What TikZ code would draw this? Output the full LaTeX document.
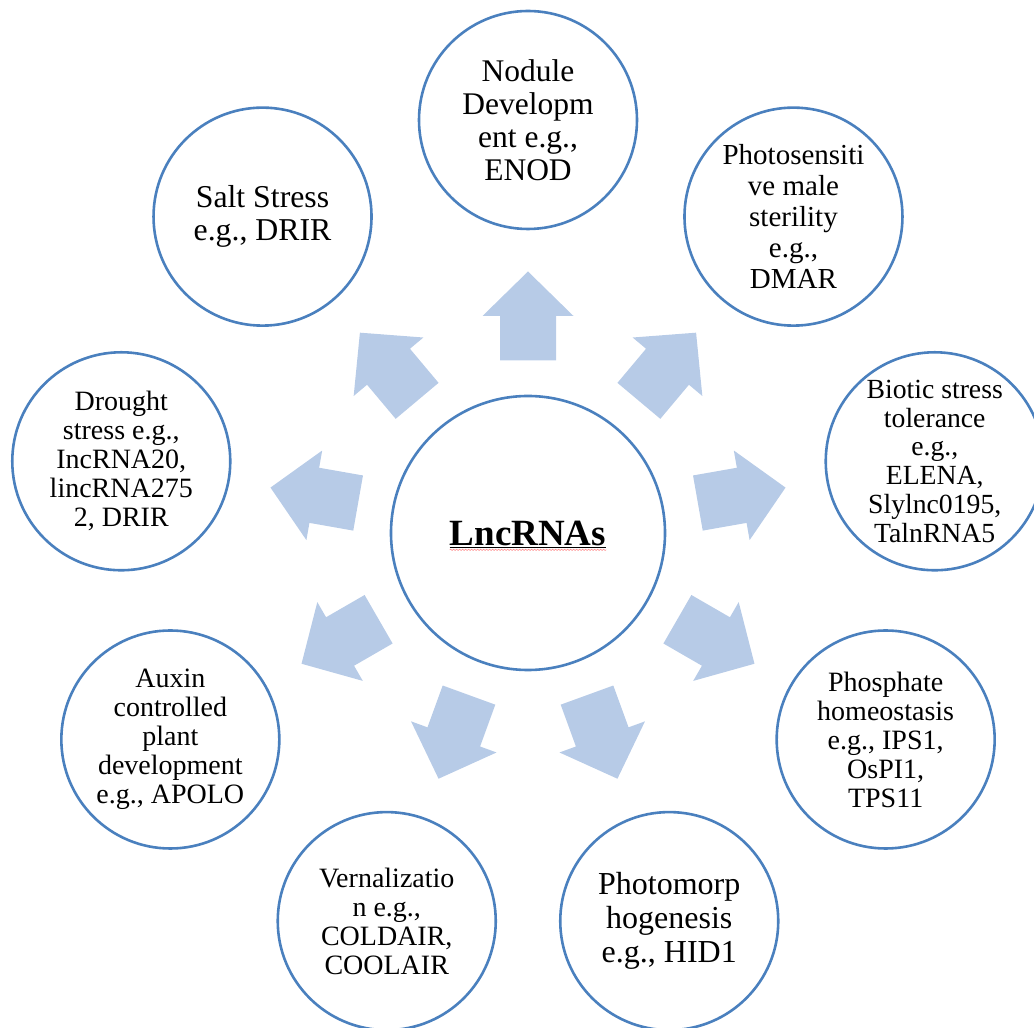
\documentclass[tikz,border=0pt]{standalone}
\usepackage{fontspec}
\setmainfont{Liberation Serif}
\usetikzlibrary{calc,decorations.pathmorphing}
\definecolor{bubbleline}{RGB}{74,128,190}
\definecolor{arrowfill}{RGB}{183,203,231}
\tikzset{
  bubble/.style={circle, draw=bubbleline, line width=2.6pt, minimum size=218pt, inner sep=0pt, fill=white},
  lbl/.style={align=center, inner sep=0pt, text=black},
  blockarrow/.style={fill=arrowfill, draw=none},
}
\newcommand{\fsz}[2]{\fontsize{#1}{#2}\selectfont}
\begin{document}
\begin{tikzpicture}[x=1pt,y=1pt]
\useasboundingbox (0,0) rectangle (1034,1028);
\coordinate (C) at (528,495);
% arrows
\foreach \a in {90,50,10,-30,-70,-110,-150,170,130}{
  \begin{scope}[shift={(C)}, rotate=\a]
    \fill[blockarrow] (172.5,-28) -- (217,-28) -- (217,-45.5) -- (261.5,0) -- (217,45.5) -- (217,28) -- (172.5,28) -- cycle;
  \end{scope}
}
% center
\node[bubble, minimum size=274pt] (center) at (C) {};
\node[lbl, font=\fsz{37}{40}\bfseries] (lnc) at (C) {LncRNAs};
\draw[line width=1.4pt] ([yshift=-2.6pt]lnc.base west) -- ([yshift=-2.6pt]lnc.base east);
\draw[red!45, line width=0.6pt, decorate, decoration={snake, amplitude=0.6pt, segment length=3pt}] ([yshift=-4.8pt]lnc.base west) -- ([yshift=-4.8pt]lnc.base east);
% outer circles
\node[bubble] (b1) at ($(C)+(90:413)$) {};
\node[lbl, font=\fsz{31.5}{33}] (t1) at (b1) {Nodule\\Developm\\ent e.g.,\\ENOD};
\node[bubble] (b2) at ($(C)+(50:413)$) {};
\node[lbl, font=\fsz{29}{31}] (t2) at (b2) {Photosensiti\\ve male\\sterility\\e.g.,\\DMAR};
\node[bubble] (b3) at ($(C)+(10:413)$) {};
\node[lbl, font=\fsz{27.7}{28.7}] (t3) at (b3) {Biotic stress\\tolerance\\e.g.,\\ELENA,\\Slylnc0195,\\TalnRNA5};
\node[bubble] (b4) at ($(C)+(-30:413)$) {};
\node[lbl, font=\fsz{28}{29}] (t4) at (b4) {Phosphate\\homeostasis\\e.g., IPS1,\\OsPI1,\\TPS11};
\node[bubble] (b5) at ($(C)+(-70:413)$) {};
\node[lbl, font=\fsz{32}{34}] (t5) at (b5) {Photomorp\\hogenesis\\e.g., HID1};
\node[bubble] (b6) at ($(C)+(-110:413)$) {};
\node[lbl, font=\fsz{28}{29}] (t6) at (b6) {Vernalizatio\\n e.g.,\\COLDAIR,\\COOLAIR};
\node[bubble] (b7) at ($(C)+(-150:413)$) {};
\node[lbl, font=\fsz{28}{29}] (t7) at (b7) {Auxin\\controlled\\plant\\development\\e.g., APOLO};
\node[bubble] (b8) at ($(C)+(170:413)$) {};
\node[lbl, font=\fsz{28}{29}] (t8) at (b8) {Drought\\stress e.g.,\\IncRNA20,\\lincRNA275\\2, DRIR};
\node[bubble] (b9) at ($(C)+(130:413)$) {};
\node[lbl, font=\fsz{31.8}{33}] (t9) at (b9) {Salt Stress\\e.g., DRIR};
\end{tikzpicture}
\end{document}
